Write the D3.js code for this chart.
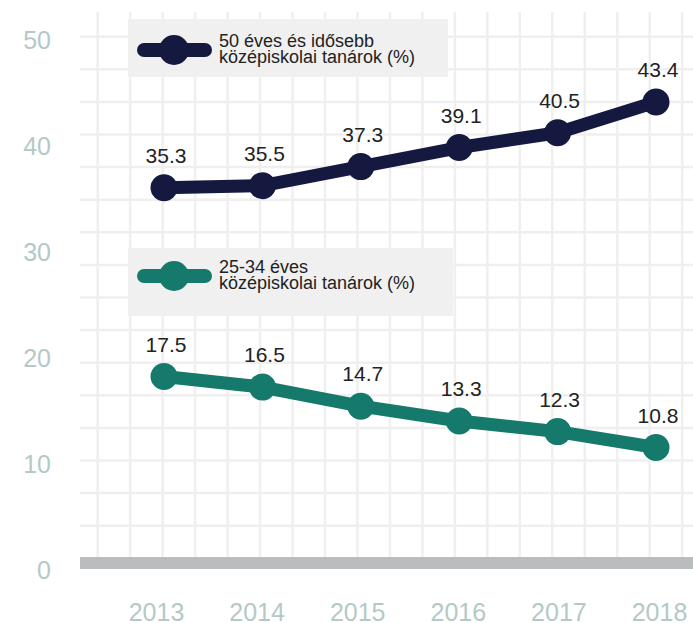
<!DOCTYPE html>
<html>
<head>
<meta charset="utf-8">
<script src="https://cdn.jsdelivr.net/npm/d3@7"></script>
<style>
  body { margin: 0; background: #fff; }
  svg { display: block; }
</style>
</head>
<body>
<div id="chart"></div>
<script>
// data
const YEARS = [2013, 2014, 2015, 2016, 2017, 2018];
const OLDER = [35.3, 35.5, 37.3, 39.1, 40.5, 43.4];
const YOUNGER = [17.5, 16.5, 14.7, 13.3, 12.3, 10.8];
const Y_TICKS = [0, 10, 20, 30, 40, 50];
const OLDER_LABEL = ["50 éves és idősebb", "középiskolai tanárok (%)"];
const YOUNGER_LABEL = ["25-34 éves", "középiskolai tanárok (%)"];

const WIDTH = 693;
const HEIGHT = 623;
const DARK = "#15183f";
const TEAL = "#157a6c";
const TICK_COLOR = "#b4c9c6";
const GRID_COLOR = "#efefef";
const FONT = "'Liberation Sans', Arial, sans-serif";

const svg = d3.select("#chart")
  .append("svg")
  .attr("width", WIDTH)
  .attr("height", HEIGHT);

// scales
const x = d3.scalePoint().domain(YEARS).range([164, 656]);
const xLabel = d3.scalePoint().domain(YEARS).range([156, 659]);
const y = d3.scaleLinear().domain([0, 50]).range([562, 32]);

// decorative background grid
const grid = svg.append("g");
grid.selectAll("line.v")
  .data(d3.range(19))
  .join("line")
  .attr("class", "v")
  .attr("x1", (i) => 97.7 + i * 32.47)
  .attr("x2", (i) => 97.7 + i * 32.47)
  .attr("y1", 12)
  .attr("y2", 557)
  .attr("stroke", GRID_COLOR)
  .attr("stroke-width", 2.5);
grid.selectAll("line.h")
  .data(d3.range(16))
  .join("line")
  .attr("class", "h")
  .attr("x1", 80)
  .attr("x2", WIDTH)
  .attr("y1", (i) => 36.7 + i * 32.6)
  .attr("y2", (i) => 36.7 + i * 32.6)
  .attr("stroke", GRID_COLOR)
  .attr("stroke-width", 2.5);

// baseline bar
svg.append("rect")
  .attr("x", 80)
  .attr("y", y(0) - 5)
  .attr("width", WIDTH - 80)
  .attr("height", 12)
  .attr("fill", "#bbbcbe");

// Y axis
svg.append("g")
  .attr("transform", "translate(51,8)")
  .call(d3.axisLeft(y).tickValues(Y_TICKS).tickSize(0).tickPadding(0))
  .call((g) => g.select(".domain").remove())
  .selectAll("text")
  .attr("fill", TICK_COLOR)
  .attr("font-family", FONT)
  .attr("font-size", "25px");

// X axis
svg.append("g")
  .attr("transform", "translate(0,603)")
  .call(d3.axisBottom(xLabel).tickSize(0).tickPadding(0))
  .call((g) => g.select(".domain").remove())
  .selectAll("text")
  .attr("fill", TICK_COLOR)
  .attr("font-family", FONT)
  .attr("font-size", "25px");

// legends
function drawLegend(top, boxW, boxH, symY, color, lines) {
  const g = svg.append("g");
  g.append("rect")
    .attr("x", 128).attr("y", top)
    .attr("width", boxW).attr("height", boxH)
    .attr("fill", "#f0f0f0");
  g.append("line")
    .attr("x1", 144).attr("x2", 205)
    .attr("y1", symY).attr("y2", symY)
    .attr("stroke", color)
    .attr("stroke-width", 14)
    .attr("stroke-linecap", "round");
  g.append("circle")
    .attr("cx", 174).attr("cy", symY).attr("r", 15)
    .attr("fill", color);
  g.append("text")
    .attr("font-family", FONT)
    .attr("font-size", "18px")
    .attr("fill", "#222")
    .selectAll("tspan")
    .data(lines)
    .join("tspan")
    .attr("x", 219)
    .attr("y", (_, i) => symY - 3 + i * 16)
    .text((d) => d);
}
drawLegend(19, 320, 58, 50, DARK, OLDER_LABEL);
drawLegend(248, 325, 68, 276, TEAL, YOUNGER_LABEL);

// series
const line = d3.line()
  .x((d) => x(d.year))
  .y((d) => y(d.value));

function drawSeries(values, color) {
  const pts = YEARS.map((year, i) => ({ year, value: values[i] }));
  const g = svg.append("g");
  g.append("path")
    .datum(pts)
    .attr("d", line)
    .attr("fill", "none")
    .attr("stroke", color)
    .attr("stroke-width", 13)
    .attr("stroke-linejoin", "round");
  g.selectAll("circle")
    .data(pts)
    .join("circle")
    .attr("cx", (d) => x(d.year))
    .attr("cy", (d) => y(d.value))
    .attr("r", 13.5)
    .attr("fill", color);
  g.selectAll("text")
    .data(pts)
    .join("text")
    .attr("x", (d) => x(d.year) + 2)
    .attr("y", (d) => y(d.value) - 25)
    .attr("text-anchor", "middle")
    .attr("font-family", FONT)
    .attr("font-size", "21px")
    .attr("fill", "#222")
    .text((d) => d3.format(".1f")(d.value));
}
drawSeries(OLDER, DARK);
drawSeries(YOUNGER, TEAL);
</script>
</body>
</html>
